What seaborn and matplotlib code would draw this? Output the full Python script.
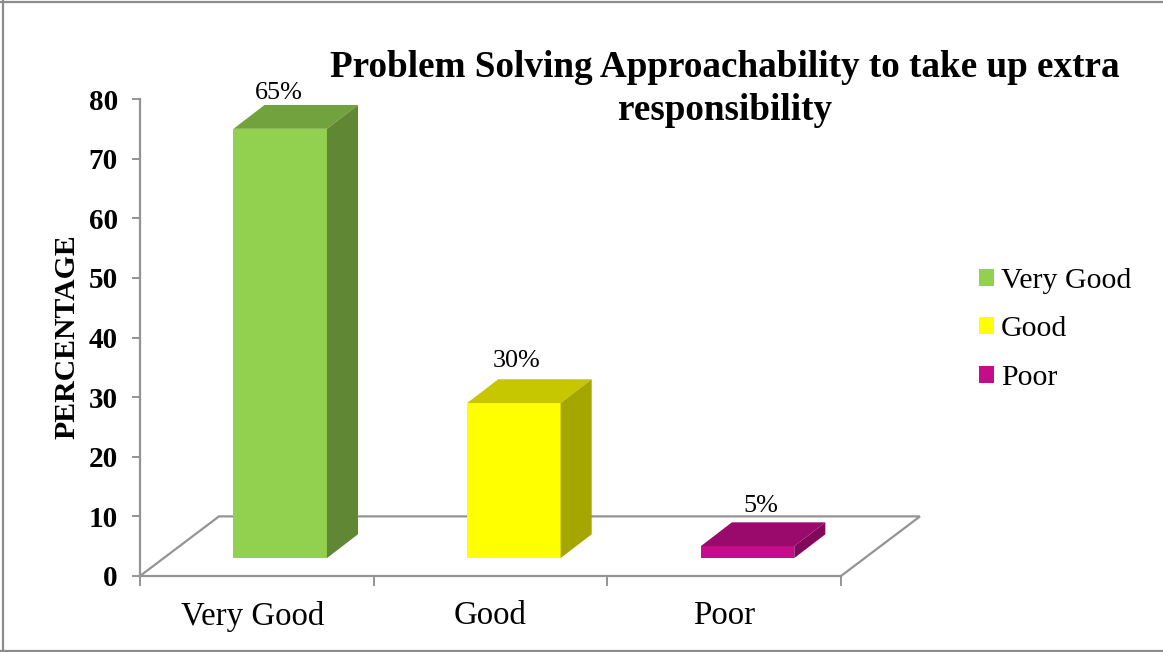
import matplotlib
matplotlib.use("Agg")
import numpy as np
import seaborn as sns
import matplotlib.pyplot as plt
from matplotlib.colors import to_rgb
from matplotlib.lines import Line2D
from matplotlib.patches import Patch, Polygon
from matplotlib.transforms import ScaledTranslation

categories = ['Very Good', 'Good', 'Poor']
# drawn bar heights on the axis, these do not agree with the printed labels
bar_heights = [72, 26, 2]
bar_labels = ['65%', '30%', '5%']
bar_colors = ['#92D050', '#FFFF00', '#C60C8A']
y_ticks = [0, 10, 20, 30, 40, 50, 60, 70, 80]
title = 'Problem Solving Approachability to take up extra\nresponsibility'

W, H = 1163, 652
GREY = '#949494'
bar_base = 3
bar_dx, bar_dy = 0.133, 4.0      # depth of the bars
floor_dx, floor_dy = 0.338, 10.0  # depth of the floor
shift = 0.1
label_nudge = [(-35, 1), (-32, 5), (-24, 4)]  # points, from the back of the bar top

sns.set_theme(style='white')
plt.rcParams['font.family'] = ['Liberation Serif', 'DejaVu Serif']

fig = plt.figure(figsize=(W / 100, H / 100), dpi=100)
ax = fig.add_axes([140 / W, 1 - 576 / H, 701 / W, 477 / H])

sns.barplot(x=categories, y=bar_heights, bottom=bar_base, hue=categories,
            palette=bar_colors, width=0.4, saturation=1, legend=False, ax=ax)

ax.set_xlim(-0.5, 2.5)
ax.set_ylim(0, 80)

# floor outline
ax.plot([-0.5, -0.5 + floor_dx, 2.5 + floor_dx, 2.5], [0, floor_dy, floor_dy, 0],
        color=GREY, lw=1.6, clip_on=False, zorder=0.5, solid_joinstyle='miter')

# fake the 3d look from the bars seaborn drew
for p, c, txt, nudge in zip(ax.patches, bar_colors, bar_labels, label_nudge):
    p.set_x(p.get_x() + shift)
    p.set_linewidth(0)
    p.set_zorder(3)
    x0, x1 = p.get_x(), p.get_x() + p.get_width()
    y0, y1 = p.get_y(), p.get_y() + p.get_height()
    base = np.array(to_rgb(c))
    ax.add_patch(Polygon([(x0, y1), (x1, y1), (x1 + bar_dx, y1 + bar_dy), (x0 + bar_dx, y1 + bar_dy)],
                         closed=True, fc=base * 0.78, lw=0, zorder=3, clip_on=False))
    ax.add_patch(Polygon([(x1, y0), (x1 + bar_dx, y0 + bar_dy), (x1 + bar_dx, y1 + bar_dy), (x1, y1)],
                         closed=True, fc=base * 0.65, lw=0, zorder=3, clip_on=False))
    ax.annotate(txt, (x1, y1 + bar_dy), xytext=nudge, textcoords='offset points',
                ha='center', va='bottom', fontsize=18.8, color='black', annotation_clip=False)

sns.despine(ax=ax)
for side in ['left', 'bottom']:
    ax.spines[side].set_color(GREY)
    ax.spines[side].set_linewidth(1.6)

ax.set_yticks(y_ticks)
ax.set_yticklabels(y_ticks, fontsize=21, fontweight='bold', color='black')
ax.tick_params(axis='y', length=6, width=1.4, color=GREY, pad=10, left=True)
ax.set_xticks([-0.5, 0.5, 1.5, 2.5])
ax.set_xticklabels([])
ax.set_xticks([0, 1, 2], minor=True)
ax.set_xticklabels(categories, minor=True, fontsize=23.7, color='black')
ax.tick_params(axis='x', which='major', length=7, width=1.4, color=GREY, bottom=True)
ax.tick_params(axis='x', which='minor', length=0, pad=18)
# first label sits a little left of its slot in the original
first = ax.get_xticklabels(minor=True)[0]
first.set_transform(first.get_transform() + ScaledTranslation(-4 / 100, 0, fig.dpi_scale_trans))
ax.set_ylabel('')

fig.text(67 / W, 1 - 337 / H, 'PERCENTAGE', rotation=90, ha='center', va='center',
         fontsize=21.4, fontweight='bold', color='black')
fig.text(725 / W, 1 - 89 / H, title, ha='center', va='center', fontsize=26.75,
         fontweight='bold', color='black', linespacing=1.26)

handles = [Patch(fc=c, lw=0) for c in bar_colors]
fig.legend(handles, categories, loc='upper left', bbox_to_anchor=(979 / W, 1 - 268 / H),
           frameon=False, fontsize=21.5, handlelength=0.5, handleheight=0.5,
           handletextpad=0.23, labelspacing=0.75, labelcolor='black',
           borderpad=0, borderaxespad=0)

# chart frame
for xs, ys in [([3, 3], [0, H]), ([0, W], [2, 2]), ([0, W], [651, 651])]:
    fig.add_artist(Line2D(np.array(xs) / W, 1 - np.array(ys) / H, color='#8c8c8c', lw=1.6))

fig.savefig('out.png', dpi=100)
